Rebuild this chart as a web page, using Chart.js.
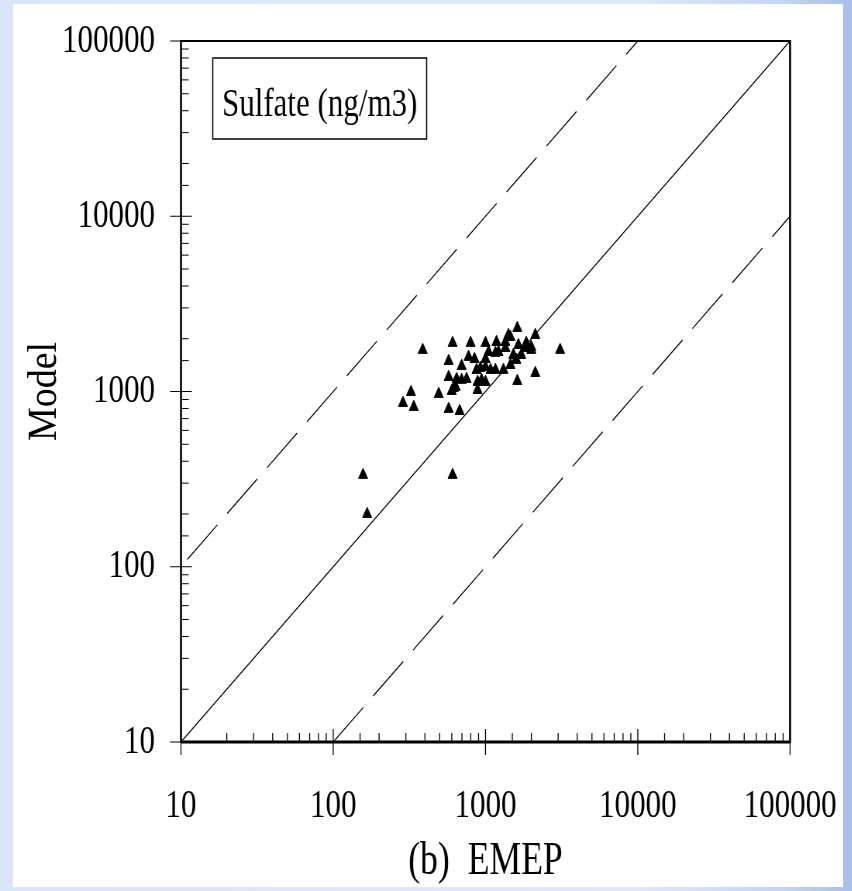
<!DOCTYPE html>
<html>
<head>
<meta charset="utf-8">
<title>Sulfate: Model vs EMEP</title>
<script src="https://cdn.jsdelivr.net/npm/chart.js@4.4.1/dist/chart.umd.min.js"></script>
<style>
  html, body { margin: 0; padding: 0; }
  body {
    width: 852px; height: 891px; overflow: hidden; position: relative;
    background: linear-gradient(90deg, #dce6fa 0%, #dfe8fb 75%, #c4d4f2 92%, #a8bfe9 100%);
  }
  #sheet { position: absolute; left: 13px; top: 4px; width: 830px; height: 883px; background: #fff; }
  /* the plot is laid out wide and then squeezed horizontally */
  #wrap { position: absolute; left: 0; top: 0; width: 1099px; height: 891px;
          transform: scaleX(0.775); transform-origin: 0 0; }
</style>
</head>
<body>
<div id="sheet"></div>
<div id="wrap"><canvas id="chart" width="1099" height="891"></canvas></div>
<script>
// station pairs: EMEP observation vs model, ng/m3
const EMEP  = [157, 167, 608, 324, 287, 338, 493, 573, 676, 387,
               608, 798, 1000, 573, 774, 847, 697, 573, 646, 751,
               873, 887, 618, 600, 887, 1000, 1000, 1618, 3090, 2123,
               1998, 2123, 1618, 1457, 1180, 1047, 1216, 1644, 1825, 1718,
               1524, 1351, 1162, 1311, 1457, 1594, 942, 927, 1413, 697,
               1079, 1162, 1853, 637, 1000, 1999, 1351];
const MODEL = [334, 200, 334, 993, 860, 816, 968, 795, 774, 1726,
               1892, 1892, 1892, 1493, 1574, 1532, 1397, 1210, 1178, 1178,
               1327, 1133, 1047, 1006, 1020, 1380, 1133, 2303, 1726, 2100,
               1795, 1275, 1148, 2047, 1915, 1680, 1680, 1841, 1771, 1615,
               1615, 1771, 1327, 1327, 1416, 1513, 1164, 1362, 2100, 1164,
               1327, 1660, 1892, 1062, 1532, 1726, 1915];

// reference lines: 1:1, factor 10 above, factor 10 below
const ONE_X   = [10, 100000];
const ONE_Y   = [10, 100000];
const UPPER_X = [11, 10000];
const UPPER_Y = [110, 100000];
const LOWER_X = [100, 100000];
const LOWER_Y = [10, 10000];

const AXIS_MIN = 10;
const AXIS_MAX = 100000;
const LEGEND_TEXT = 'Sulfate (ng/m3)';
const Y_TITLE = 'Model';
const X_TITLE = '(b)  EMEP';

const SERIF = "'Liberation Serif', 'Times New Roman', serif";

function isDecade(v){ const l = Math.log10(v); return Math.abs(l - Math.round(l)) < 1e-6; }
function pairs(xs, ys){ return xs.map((x,i) => ({x, y: ys[i]})); }

// inward minor ticks, decade ticks through the axis, closed frame, legend box, y title
const frame = {
  id: 'frame',
  afterDatasetsDraw(chart){
    const {ctx, chartArea: a, scales: {x, y}} = chart;
    ctx.save();
    ctx.strokeStyle = '#000';

    ctx.lineWidth = 1.3;
    x.ticks.forEach(t => {
      const px = x.getPixelForValue(t.value);
      const major = isDecade(t.value);
      ctx.beginPath();
      ctx.moveTo(px, a.bottom - (major ? 13 : 9));
      ctx.lineTo(px, a.bottom + (major ? 13 : 0));
      ctx.stroke();
    });
    ctx.lineWidth = 1;
    y.ticks.forEach(t => {
      const py = y.getPixelForValue(t.value);
      const major = isDecade(t.value);
      ctx.beginPath();
      ctx.moveTo(a.left - (major ? 14 : 0), py);
      ctx.lineTo(a.left + (major ? 14 : 10), py);
      ctx.stroke();
    });

    ctx.lineWidth = 2;
    ctx.beginPath(); ctx.moveTo(a.left, a.top); ctx.lineTo(a.right, a.top); ctx.stroke();
    ctx.lineWidth = 3;
    ctx.beginPath(); ctx.moveTo(a.left, a.bottom); ctx.lineTo(a.right, a.bottom); ctx.stroke();
    ctx.lineWidth = 2.6;
    ctx.beginPath(); ctx.moveTo(a.left, a.top - 1); ctx.lineTo(a.left, a.bottom + 1); ctx.stroke();
    ctx.beginPath(); ctx.moveTo(a.right, a.top - 1); ctx.lineTo(a.right, a.bottom + 1); ctx.stroke();

    // legend box in the upper left corner
    const bx = a.left + 41, by = a.top + 17, bw = 276, bh = 81;
    ctx.lineWidth = 1.5;
    ctx.strokeRect(bx, by, bw, bh);
    ctx.fillStyle = '#000';
    ctx.font = '40px ' + SERIF;
    ctx.textAlign = 'center';
    ctx.textBaseline = 'alphabetic';
    ctx.fillText(LEGEND_TEXT, bx + bw / 2, by + 58);

    // y title, rotated; glyphs widened so the squeeze does not flatten them
    ctx.translate(58, (a.top + a.bottom) / 2);
    ctx.scale(1.4, 1);
    ctx.rotate(-Math.PI / 2);
    ctx.font = '38px ' + SERIF;
    ctx.textBaseline = 'middle';
    ctx.fillText(Y_TITLE, 0, 0);
    ctx.restore();
  }
};

const tickFont = { family: SERIF, size: 40 };

new Chart(document.getElementById('chart'), {
  type: 'scatter',
  data: {
    datasets: [
      {
        data: pairs(EMEP, MODEL),
        pointStyle: 'triangle',
        pointRadius: 6.8,
        pointBackgroundColor: '#000',
        pointBorderColor: '#000',
        pointBorderWidth: 1
      },
      { type: 'line', data: pairs(ONE_X, ONE_Y), borderColor: '#000', borderWidth: 1.2, pointRadius: 0 },
      { type: 'line', data: pairs(UPPER_X, UPPER_Y), borderColor: '#000', borderWidth: 1.2, pointRadius: 0, borderDash: [52, 17] },
      { type: 'line', data: pairs(LOWER_X, LOWER_Y), borderColor: '#000', borderWidth: 1.2, pointRadius: 0, borderDash: [52, 17] }
    ]
  },
  options: {
    responsive: false,
    animation: false,
    layout: { padding: { left: 0, top: 41, right: 79.6, bottom: 0 } },
    plugins: { legend: { display: false }, tooltip: { enabled: false } },
    scales: {
      x: {
        type: 'logarithmic',
        min: AXIS_MIN, max: AXIS_MAX,
        grid: { display: false, drawTicks: false },
        border: { display: false },
        ticks: {
          autoSkip: false, maxRotation: 0, padding: 40,
          color: '#000', font: tickFont,
          callback: v => isDecade(v) ? String(Math.round(v)) : ''
        },
        title: {
          display: true, text: X_TITLE, color: '#000',
          font: { family: SERIF, size: 46 }, padding: { top: 0, bottom: 1 }
        },
        afterFit: s => { s.height = 149; s.paddingLeft = 0; s.paddingRight = 0; }
      },
      y: {
        type: 'logarithmic',
        min: AXIS_MIN, max: AXIS_MAX,
        grid: { display: false, drawTicks: false },
        border: { display: false },
        ticks: {
          autoSkip: false, padding: 33.5,
          color: '#000', font: tickFont,
          callback: v => isDecade(v) ? String(Math.round(v)) : ''
        },
        afterFit: s => { s.width = 233.5; s.paddingTop = 0; s.paddingBottom = 0; }
      }
    }
  },
  plugins: [frame]
});
</script>
</body>
</html>
